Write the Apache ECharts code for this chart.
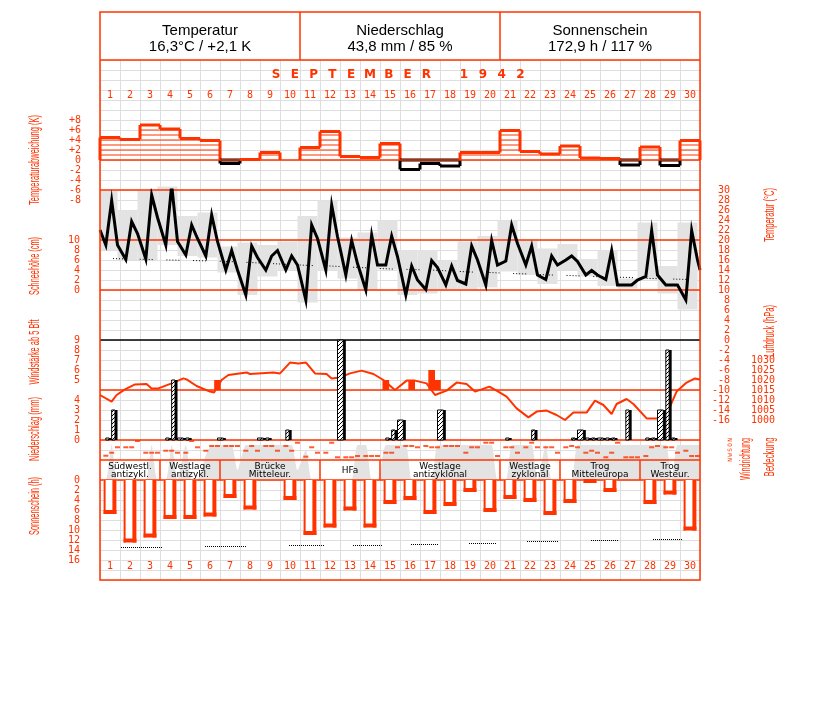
<!DOCTYPE html>
<html><head><meta charset="utf-8">
<script src="https://cdn.jsdelivr.net/npm/echarts@6/dist/echarts.min.js"></script>
<style>html,body{margin:0;padding:0;background:#fff}#c{width:827px;height:702px}</style>
</head><body><div id="c"></div>
<script>
// ---------------- DATA ----------------
const days = Array.from({length:30}, (_, i) => String(i + 1));
const headerTitles = ['Temperatur', 'Niederschlag', 'Sonnenschein'];
const headerValues = ['16,3°C / +2,1 K', '43,8 mm / 85 %', '172,9 h / 117 %'];
const monthTitle = 'SEPTEMBER 1942';
const obsHours = [7, 14, 21];
// daily temperature anomaly (K)
const anomaly = [4.5,4.1,7.0,6.2,4.3,3.9,-0.7,0.1,1.5,0.0,2.5,5.7,0.7,0.5,3.3,-1.9,-0.7,-1.2,1.5,1.5,5.9,1.7,1.2,2.8,0.4,0.3,-1.0,2.6,-1.1,3.9];
// temperature at 7h, 14h, 21h (°C)
const tempObs = [
  19,27.9,19, 16.1,23.7,21.3, 16.2,29,24.5, 19,31,19.7, 17,23,20.3,
  16.8,25,19.7, 14,17.9,14, 9,18.8,16.5, 14,16.8,17.9, 14,16.8,15,
  8,23,20.3, 14,27,20.7, 13,19.9,15.3, 10,21,15, 15,20.8,16.7,
  9,14.8,12, 10.1,15.9,14.5, 11,14.8,11.9, 11.2,18.8,16, 11,19.9,15,
  15.8,23,19.3, 15,18.8,13, 12.1,16.8,15, 16,16.8,15.7, 13,13.9,13,
  12.1,17.9,11, 11,11,12, 12.7,21.9,13, 11,11,11, 8,21.9,16];
const tempStart = 22, tempEnd = 14;
const tempMax = [29.9,25.9,29.9,30.7,24.8,25.5,18.7,19.5,19,19.7,24.8,27.9,20.5,21.5,23.9,17.9,18,15.9,19.7,20.8,23.9,20.1,18.3,19.2,16.2,17.9,12.3,23.5,14.8,23.5];
const tempMin = [18,16,16,19,16.8,16.5,13.5,9,12.7,14,7.5,13.9,12.3,9.9,14.1,9,9.3,10.1,10.1,10.5,13.7,13,11.2,14,12.7,10.8,10.3,12.1,9.3,6.1];
const tempNormal = [16.3,16.2,16.1,16.0,15.9,15.8,15.7,15.5,15.3,15.1,14.9,14.8,14.6,14.4,14.2,14.1,14.0,13.8,13.6,13.5,13.3,13.2,13.0,12.9,12.7,12.6,12.5,12.3,12.2,12.1];
// precipitation per period: 7-14h, 14-21h, 21-7h (mm)
const precip = [
  0.2,3,0, 0,0,0, 0,0,0, 0.2,6,0.2, 0.2,0,0, 0,0,0.2, 0,0,0, 0,0,0.2, 0.2,0,0, 1,0,0,
  0,0,0, 0,0,10, 0,0,0, 0,0,0, 0.2,1,2, 0,0,0, 0,0,3, 0,0,0, 0,0,0, 0,0,0,
  0.2,0,0, 0,1,0, 0,0,0, 0,0.2,1, 0.2,0.2,0.2, 0.2,0.2,0, 3,0,0, 0.2,0.2,3, 9,0.2,0, 0,0,0];
// wind force >= 5 Bft : day, hour, Bft
const windDay = [6, 15, 16, 17, 17];
const windHour = [21, 7, 14, 14, 21];
const windBft = [5, 5, 5, 6, 5];
// air pressure trace: position (days from start of month) and hPa
const pressDay = [0,0.58,0.83,1.25,1.75,2.33,2.58,2.92,3.58,4.17,4.33,4.83,5.5,5.7,6.08,6.42,7.33,7.5,8.67,9.0,9.5,9.92,10.3,10.75,11.33,11.58,12.0,12.5,13.08,13.67,14.17,14.75,15.33,15.75,16.33,16.75,17.33,17.83,18.33,18.75,19.08,19.47,19.83,20.33,20.83,21.42,21.83,22.33,22.83,23.25,23.67,24.33,24.75,25.17,25.58,25.83,26.33,26.67,27.33,27.92,28.42,28.83,29.33,29.75,30];
const pressure = [1012.5,1009.2,1012.5,1015.3,1017.8,1018,1015.8,1015.8,1018.3,1020.8,1020.3,1017,1014.2,1013.8,1020,1022.5,1023.8,1023,1023.8,1023.3,1028.7,1028.3,1028.7,1023.3,1023,1020.8,1021.3,1023.3,1024.7,1023,1020,1015,1019.7,1019.7,1018.3,1012.5,1014.7,1018.7,1018,1014.2,1015.3,1016.7,1014.7,1011.7,1005.8,1001.3,1004.2,1004.7,1002.5,1000,1003.7,1003.7,1009.7,1007.5,1003,1008,1010.5,1008,1000.8,1000.8,1005,1014.2,1018.7,1020.8,1020.3];
// wind direction (degrees) at 7h, 14h, 21h
const windDir = [
  283,229,131, 131,131,18, 229,229,229, 193,193,229, 229,18,131,
  193,108,108, 108,108,108, 193,108,193, 108,108,193, 108,193,49,
  300,131,229, 229,49,311, 311,311,288, 288,288,288, 229,229,131,
  108,108,131, 108,131,131, 108,108,108, 229,131,131, 49,49,288,
  131,131,229, 131,49,131, 131,131,229, 131,108,131, 229,193,229,
  311,229,49, 311,311,311, 288,131,108, 131,131,229, 193,288,288];
// cloud cover (octas) at 7h, 14h, 21h
const cloud = [
  0,7,0, 0,0,0, 0,7,0, 0,7,0, 7,0,0,
  5,7,7, 7,7,2, 7,7,7, 7,7,7, 7,7,2,
  6,0,0, 0,0,0, 0,0,7, 7,0,0, 7,7,7,
  7,0,0, 0,0,7, 7,7,7, 7,7,7, 7,7,0,
  0,7,7, 7,7,0, 7,0,0, 0,0,7, 7,7,7,
  7,7,7, 7,7,7, 7,7,7, 7,0,7, 7,7,7];
// sunshine duration (h)
const sunshine = [6.8,12.5,11.5,7.8,7.8,7.3,3.6,5.9,0,4.0,11.0,9.5,6.1,9.5,4.8,4.0,6.8,5.2,2.4,6.4,3.8,4.4,7.0,4.6,0.6,2.4,0,4.8,2.9,10.1];
// astronomically possible sunshine, segments (start day, end day, h)
const possStart = [1.05,5.25,9.45,12.65,15.55,18.45,21.35,24.55,27.65];
const possEnd   = [3.1,7.35,11.2,14.1,16.9,19.8,22.9,25.95,29.15];
const possHours = [13.4,13.1,13.0,12.9,12.7,12.5,12.2,12.0,11.8];
// weather types (Grosswetterlagen)
const wxStart = [1,4,7,12,15,21,24,28];
const wxEnd   = [3,6,11,14,20,23,27,30];
const wxLabel = ['Südwestl.\nantizykl.','Westlage\nantizykl.','Brücke\nMitteleur.','HFa','Westlage\nantizyklonal','Westlage\nzyklonal','Trog\nMitteleuropa','Trog\nWesteur.'];
// axis tick labels
const dirLabels = ['N','O','S','W','N'];

// ---------------- STYLE ----------------
const RED = '#ff3300', GRAY = '#e3e3e3', GRIDC = '#dedede';
const MONO = '"DejaVu Sans Mono", monospace';
const TFONT = '"Liberation Sans", Arial, sans-serif';
const tickFont = {color: RED, fontFamily: MONO, fontSize: 10};

const L = 100, W = 600;
function g(top, height) { return {left: L, width: W, top: top, height: height, containLabel: false}; }
const grids = [g(60, 520), g(120, 80), g(190, 230), g(340, 100), g(440, 20), g(440, 40), g(460, 20), g(480, 80)];
const xAxes = grids.map((_, i) => ({gridIndex: i, type: 'value', min: 0, max: 30, show: false}));
xAxes[0] = {gridIndex: 0, type: 'value', min: 0, max: 30, interval: 1, axisLine: {show: false}, axisTick: {show: false}, axisLabel: {show: false}, splitLine: {show: true, lineStyle: {color: GRIDC, width: 1}}};
xAxes.push({gridIndex: 1, type: 'category', data: days, position: 'top', axisLine: {show: false}, axisTick: {show: false}, axisLabel: Object.assign({margin: 20, interval: 0}, tickFont)});
xAxes.push({gridIndex: 7, type: 'category', data: days, position: 'bottom', axisLine: {show: false}, axisTick: {show: false}, axisLabel: Object.assign({margin: 1, interval: 0}, tickFont)});

const noLine = {axisLine: {show: false}, axisTick: {show: false}, splitLine: {show: false}};
const yAxes = [
  {gridIndex: 0, type: 'value', min: 0, max: 52, interval: 1, axisLine: {show: false}, axisTick: {show: false}, axisLabel: {show: false}, splitLine: {show: true, lineStyle: {color: GRIDC, width: 1}}},
  Object.assign({gridIndex: 1, type: 'value', min: -8, max: 8, interval: 2, position: 'left', axisLabel: Object.assign({margin: 19, formatter: v => v > 0 ? '+' + v : (v < 0 ? '-' + (-v) : '0')}, tickFont)}, noLine),
  Object.assign({gridIndex: 2, type: 'value', min: -16, max: 30, interval: 2, position: 'right', axisLabel: Object.assign({margin: 30, align: 'right', formatter: v => v < 0 ? '-' + (-v) : String(v)}, tickFont)}, noLine),
  Object.assign({gridIndex: 2, type: 'value', min: -26, max: 20, interval: 2, position: 'left', axisLabel: Object.assign({margin: 20, formatter: v => (v >= 0 && v <= 10) ? String(v) : ''}, tickFont)}, noLine),
  Object.assign({gridIndex: 3, type: 'value', min: 0, max: 10, interval: 1, position: 'left', axisLabel: Object.assign({margin: 20, formatter: v => v <= 4 ? String(v) : (v >= 6 ? String(v - 1) : '')}, tickFont)}, noLine),
  Object.assign({gridIndex: 3, type: 'value', min: 990, max: 1040, interval: 5, position: 'right', axisLabel: Object.assign({margin: 75, align: 'right', formatter: v => (v >= 1000 && v <= 1030) ? String(v) : ''}, tickFont)}, noLine),
  Object.assign({gridIndex: 4, type: 'value', min: 0, max: 360, interval: 90, inverse: true, position: 'right', axisLabel: {margin: 27, rotate: 90, color: RED, fontFamily: MONO, fontSize: 6, formatter: v => dirLabels[v / 90]}}, noLine),
  {gridIndex: 5, type: 'value', min: 0, max: 8, show: false},
  {gridIndex: 6, type: 'value', min: 0, max: 1, show: false},
  Object.assign({gridIndex: 7, type: 'value', min: 0, max: 16, interval: 2, inverse: true, position: 'left', axisLabel: Object.assign({margin: 20}, tickFont)}, noLine),
  {gridIndex: 3, type: 'value', min: -1, max: 9, show: false}
];

// hatch pattern for precipitation
const pc = document.createElement('canvas'); pc.width = 4; pc.height = 4;
const pcx = pc.getContext('2d'); pcx.fillStyle = '#fff'; pcx.fillRect(0, 0, 4, 4); pcx.fillStyle = '#000';
for (let i = 0; i < 4; i++) pcx.fillRect(i, 3 - i, 1, 1);
const hatch = {image: pc, repeat: 'repeat'};

// derived data
const tempLine = [[0, tempStart]];
tempObs.forEach((v, i) => tempLine.push([Math.floor(i / 3) + obsHours[i % 3] / 24, v]));
tempLine.push([30, tempEnd]);
const tempBox = tempMax.map((mx, i) => [i, tempMin[i], mx]);
const normalLine = tempNormal.map((v, i) => [i + 0.5, v]);
const periodEdges = [7, 14, 21, 31];
const precipData = [];
precip.forEach((v, i) => { if (v > 0) { const d = Math.floor(i / 3), k = i % 3; precipData.push([d + periodEdges[k] / 24, d + periodEdges[k + 1] / 24, v]); } });
const windData = windDay.map((d, i) => [d - 1 + windHour[i] / 24, windBft[i]]);
const pressData = pressDay.map((d, i) => [d, pressure[i]]);
const dirData = windDir.map((v, i) => [Math.floor(i / 3) + obsHours[i % 3] / 24, v]);
const cloudData = [[0, cloud[0]]];
cloud.forEach((v, i) => cloudData.push([Math.floor(i / 3) + obsHours[i % 3] / 24, v]));
cloudData.push([30, cloud[cloud.length - 1]]);
const sunData = sunshine.map((v, i) => [i, v]);
const possData = possStart.map((s, i) => [s, possEnd[i], possHours[i]]);
const wxData = wxStart.map((s, i) => [s - 1, wxEnd[i], i]);

const series = [
  // cloud cover area
  {type: 'line', xAxisIndex: 5, yAxisIndex: 7, data: cloudData, symbol: 'none', smooth: 0.2, lineStyle: {width: 0}, areaStyle: {color: GRAY, opacity: 1}, z: 1, silent: true},
  // temperature min-max boxes
  {type: 'custom', xAxisIndex: 2, yAxisIndex: 2, data: tempBox, z: 2, silent: true,
    renderItem: (p, api) => {
      const i = api.value(0);
      const a = api.coord([Math.max(0, i - 0.125), api.value(2)]);
      const b = api.coord([i + 0.875, api.value(1)]);
      return {type: 'rect', shape: {x: a[0], y: a[1], width: b[0] - a[0], height: b[1] - a[1]}, style: {fill: GRAY}};
    }},
  // normal temperature
  {type: 'line', xAxisIndex: 2, yAxisIndex: 2, data: normalLine, symbol: 'none', z: 3, silent: true,
    lineStyle: {color: '#000', width: 1, type: [1, 2, 1, 2, 1, 2, 1, 2, 1, 13.7], dashOffset: 23.7}},
  // temperature curve
  {type: 'line', xAxisIndex: 2, yAxisIndex: 2, data: tempLine, symbol: 'none', z: 6, silent: true, lineStyle: {color: '#000', width: 3, join: 'miter'}},
  // anomaly step bars
  {type: 'custom', xAxisIndex: 1, yAxisIndex: 1, data: anomaly.map((v, i) => [i, v]), z: 4, silent: true,
    renderItem: (p, api) => {
      const i = p.dataIndex, v = anomaly[i];
      const x0 = api.coord([i, 0])[0], x1 = api.coord([i + 1, 0])[0];
      const y0 = api.coord([0, 0])[1], yv = api.coord([0, v])[1];
      const ch = [];
      const pos = v >= 0, col = pos ? RED : '#000';
      if (pos) for (let k = 1; k < v; k++) { const yk = api.coord([0, k])[1]; ch.push({type: 'line', shape: {x1: x0, y1: yk, x2: x1, y2: yk}, style: {stroke: RED, lineWidth: 1}}); }
      if (v !== 0) ch.push({type: 'line', shape: {x1: x0, y1: yv, x2: x1, y2: yv}, style: {stroke: col, lineWidth: 3}});
      if (!pos) ch.push({type: 'line', shape: {x1: x0, y1: y0, x2: x1, y2: y0}, style: {stroke: '#000', lineWidth: 3}});
      const prev = i > 0 ? anomaly[i - 1] : 0;
      const same = (prev >= 0) === pos;
      const yl = api.coord([0, same ? prev : 0])[1];
      ch.push({type: 'line', shape: {x1: x0, y1: yv, x2: x0, y2: yl}, style: {stroke: col, lineWidth: 3}});
      const next = i < 29 ? anomaly[i + 1] : 0;
      if (i === 29 || (next >= 0) !== pos) ch.push({type: 'line', shape: {x1: x1, y1: yv, x2: x1, y2: y0}, style: {stroke: col, lineWidth: 3}});
      return {type: 'group', children: ch};
    }},
  // strong wind blocks
  {type: 'custom', xAxisIndex: 3, yAxisIndex: 10, data: windData, z: 4, silent: true,
    renderItem: (p, api) => {
      const a = api.coord([api.value(0) - 1 / 6, api.value(1)]);
      const b = api.coord([api.value(0) + 1 / 6, 4]);
      return {type: 'rect', shape: {x: a[0], y: a[1], width: b[0] - a[0], height: b[1] - a[1]}, style: {fill: RED}};
    }},
  // pressure
  {type: 'line', xAxisIndex: 3, yAxisIndex: 5, data: pressData, symbol: 'none', z: 5, silent: true, lineStyle: {color: RED, width: 2}},
  // precipitation bars
  {type: 'custom', xAxisIndex: 3, yAxisIndex: 4, data: precipData, z: 6, silent: true,
    renderItem: (p, api) => {
      const a = api.coord([api.value(0), api.value(2)]);
      const b = api.coord([api.value(1), 0]);
      const w = b[0] - a[0], h = b[1] - a[1];
      return {type: 'group', children: [
        {type: 'rect', shape: {x: a[0], y: a[1], width: w - 2.5, height: h}, style: {fill: hatch, stroke: '#000', lineWidth: 1}},
        {type: 'rect', shape: {x: a[0] + w - 2.5, y: a[1], width: 2.5, height: h}, style: {fill: '#000'}}
      ]};
    }},
  // wind direction
  {type: 'scatter', xAxisIndex: 4, yAxisIndex: 6, data: dirData, symbol: 'rect', symbolSize: [5, 2], itemStyle: {color: RED}, z: 5, silent: true},
  // weather types band
  {type: 'custom', xAxisIndex: 6, yAxisIndex: 8, data: wxData, z: 7, silent: true,
    renderItem: (p, api) => {
      const s = api.value(0), e = api.value(1), i = api.value(2);
      const a = api.coord([s, 1]), b = api.coord([e, 0]);
      const ch = [{type: 'text', x: (a[0] + b[0]) / 2, y: (a[1] + b[1]) / 2 + 0.5, style: {text: wxLabel[i], align: 'center', verticalAlign: 'middle', font: '9px "DejaVu Sans", sans-serif', fill: '#000', lineHeight: 8}}];
      if (e < 30) ch.push({type: 'line', shape: {x1: b[0], y1: a[1], x2: b[0], y2: b[1]}, style: {stroke: RED, lineWidth: 1.5}});
      return {type: 'group', children: ch};
    }},
  // sunshine bars
  {type: 'custom', xAxisIndex: 7, yAxisIndex: 9, data: sunData, z: 5, silent: true,
    renderItem: (p, api) => {
      const i = api.value(0), v = api.value(1);
      if (!(v > 0)) return null;
      const a = api.coord([i + 0.18, 0]), b = api.coord([i + 0.82, v]);
      const x0 = a[0], x1 = b[0], y0 = a[1], y1 = b[1];
      return {type: 'group', children: [
        {type: 'rect', shape: {x: x0, y: y0, width: x1 - x0, height: y1 - y0}, style: {fill: '#fff'}},
        {type: 'rect', shape: {x: x0, y: y0, width: 2, height: y1 - y0}, style: {fill: RED}},
        {type: 'rect', shape: {x: x1 - 4, y: y0, width: 4, height: y1 - y0}, style: {fill: RED}},
        {type: 'rect', shape: {x: x0, y: y1 - 4, width: x1 - x0, height: 4}, style: {fill: RED}}
      ]};
    }},
  // possible sunshine
  {type: 'custom', xAxisIndex: 7, yAxisIndex: 9, data: possData, z: 6, silent: true,
    renderItem: (p, api) => {
      const a = api.coord([api.value(0), api.value(2)]), b = api.coord([api.value(1), api.value(2)]);
      return {type: 'line', shape: {x1: a[0], y1: Math.round(a[1]) + 0.5, x2: b[0], y2: Math.round(b[1]) + 0.5}, style: {stroke: '#000', lineWidth: 1, lineDash: [1, 1]}};
    }}
];

// ---------------- DECORATION ----------------
const graphics = [];
function hline(y, color, z, lw) { graphics.push({type: 'line', z: z || 8, shape: {x1: L, y1: y, x2: L + W, y2: y}, style: {stroke: color, lineWidth: lw || 1.5}}); }
graphics.push({type: 'rect', z: 0.5, shape: {x: L, y: 460, width: W, height: 20}, style: {fill: '#fff'}});
[60, 160, 190, 240, 290, 390, 440, 460, 480].forEach(y => hline(y, RED, 5));
hline(340, '#000', 5, 1.5);
graphics.push({type: 'rect', z: 9, shape: {x: L, y: 12, width: W, height: 568}, style: {fill: 'none', stroke: RED, lineWidth: 1.5}});
[300, 500].forEach(x => graphics.push({type: 'line', z: 9, shape: {x1: x, y1: 12, x2: x, y2: 60}, style: {stroke: RED, lineWidth: 1.5}}));
headerTitles.forEach((t, i) => {
  graphics.push({type: 'text', z: 9, x: 200 + i * 200, y: 31, style: {text: t, align: 'center', verticalAlign: 'middle', font: '15px ' + TFONT, fill: '#000'}});
  graphics.push({type: 'text', z: 9, x: 200 + i * 200, y: 47, style: {text: headerValues[i], align: 'center', verticalAlign: 'middle', font: '15px ' + TFONT, fill: '#000'}});
});
monthTitle.split('').forEach((c, i) => {
  if (c !== ' ') graphics.push({type: 'text', z: 9, x: 276 + i * 18.8, y: 75, style: {text: c, align: 'center', verticalAlign: 'middle', font: 'bold 12px "DejaVu Sans", sans-serif', fill: RED}});
});
const mctx = document.createElement('canvas').getContext('2d');
function vtitle(t, x, y, len, size) {
  const font = size + 'px ' + TFONT;
  mctx.font = font;
  const sc = len / mctx.measureText(t).width;
  graphics.push({type: 'text', z: 9, x: x, y: y, rotation: Math.PI / 2, scaleX: sc, scaleY: 1, style: {text: t, align: 'center', verticalAlign: 'middle', font: font, fill: RED}});
}
vtitle('Temperaturabweichung (K)', 35, 160, 90, 15);
vtitle('Schneehöhe (cm)', 35, 266, 58, 15);
vtitle('Windstärke ab 5 Bft', 35, 352, 65, 15);
vtitle('Niederschlag (mm)', 35, 429, 64, 15);
vtitle('Sonnenschein (h)', 35, 506, 58, 15);
vtitle('Temperatur (°C)', 770, 215, 54, 14);
vtitle('Luftdruck (hPa)', 770, 331, 52, 14);
vtitle('Windrichtung', 746, 459, 42, 14);
vtitle('Bedeckung', 770, 457, 39, 14);

const chart = echarts.init(document.getElementById('c'), null, {renderer: 'canvas'});
chart.setOption({
  animation: false, backgroundColor: '#fff',
  grid: grids, xAxis: xAxes, yAxis: yAxes, series: series,
  graphic: {elements: graphics}
});
</script></body></html>
